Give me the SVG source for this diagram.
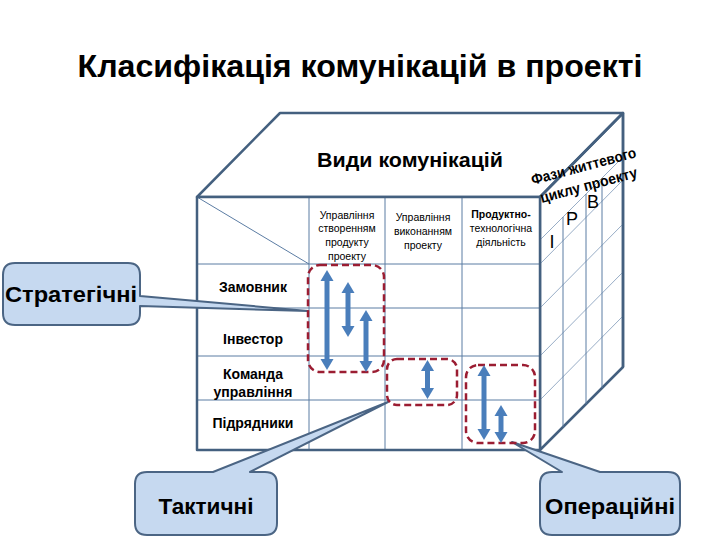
<svg xmlns="http://www.w3.org/2000/svg" width="720" height="540" viewBox="0 0 720 540">
<defs>
<style>
.edge{stroke:#44607F;stroke-width:2.5;fill:none;stroke-linejoin:round}
.grid{stroke:#5B7CA3;stroke-width:1;fill:none}
.side{stroke:#7E98B8;stroke-width:0.8;fill:none}
.t{font-family:"Liberation Sans",Arial,sans-serif;fill:#000}
.b{font-weight:bold}
.hdr{font-size:10.5px;text-anchor:middle}
.row{font-size:14px;font-weight:bold;text-anchor:middle}
.call{fill:#C6D9F0;stroke:#4B6584;stroke-width:2;stroke-linejoin:round}
.callt{font-size:22px;font-weight:bold;text-anchor:middle}
.dash{fill:none;stroke:#9B1D32;stroke-width:2.5;stroke-dasharray:7 4}
.arr{stroke:#4A7EBB;stroke-width:5;fill:none;marker-start:url(#ah);marker-end:url(#ah)}
</style>
<marker id="ah" markerUnits="userSpaceOnUse" markerWidth="14" markerHeight="14" viewBox="0 -7 12 14" refX="0" refY="0" orient="auto-start-reverse">
<path d="M0,-6.5 L11,0 L0,6.5 Z" fill="#4A7EBB"/>
</marker>
</defs>
<rect width="720" height="540" fill="#fff"/>
<text id="title" class="t b" x="360" y="77" font-size="32" text-anchor="middle" textLength="565" lengthAdjust="spacingAndGlyphs">Класифікація комунікацій в проекті</text>

<g id="cube">
<polygon points="197,197 280,113 623,113 540,197" fill="#fff" class="edge"/>
<polygon points="540,197 623,113 623,367 540,450" fill="#fff" class="edge"/>
<line class="side" x1="540" y1="240" x2="623" y2="157"/>
<line class="side" x1="540" y1="264" x2="623" y2="180"/>
<line class="side" x1="540" y1="308" x2="623" y2="224"/>
<line class="side" x1="540" y1="356" x2="623" y2="272"/>
<line class="side" x1="540" y1="400" x2="623" y2="316"/>
<line class="grid" x1="563" y1="217" x2="563" y2="427"/>
<line class="grid" x1="586" y1="194" x2="586" y2="404"/>
<line class="grid" x1="602" y1="178" x2="602" y2="388"/>
<rect x="197" y="197" width="343" height="253" fill="#fff"/>
<line class="grid" x1="197" y1="264" x2="540" y2="264"/>
<line class="grid" x1="197" y1="308" x2="540" y2="308"/>
<line class="grid" x1="197" y1="356" x2="540" y2="356"/>
<line class="grid" x1="197" y1="400" x2="540" y2="400"/>
<line class="grid" x1="309" y1="197" x2="309" y2="450"/>
<line class="grid" x1="385" y1="197" x2="385" y2="450"/>
<line class="grid" x1="462" y1="197" x2="462" y2="450"/>
<line class="grid" x1="197" y1="197" x2="309" y2="264"/>
<rect x="197" y="197" width="343" height="253" class="edge"/>
<line class="edge" x1="623" y1="113" x2="623" y2="367"/>

<text class="t b" x="410" y="167" font-size="20" text-anchor="middle" textLength="186" lengthAdjust="spacingAndGlyphs">Види комунікацій</text>
<text class="t b" font-size="15" text-anchor="middle" transform="translate(585,171) rotate(-15)" textLength="108" lengthAdjust="spacingAndGlyphs">Фази життевого</text>
<text class="t b" font-size="15" text-anchor="middle" transform="translate(590,190) rotate(-15)" textLength="100" lengthAdjust="spacingAndGlyphs">циклу проекту</text>
<text class="t" x="552" y="248" font-size="18" text-anchor="middle">І</text>
<text class="t" x="572" y="225" font-size="18" text-anchor="middle">Р</text>
<text class="t" x="593" y="208" font-size="18" text-anchor="middle">В</text>

<text class="t hdr" x="347" y="219">Управління</text>
<text class="t hdr" x="347" y="232">створенням</text>
<text class="t hdr" x="347" y="246">продукту</text>
<text class="t hdr" x="347" y="260">проекту</text>
<text class="t hdr" x="423" y="221">Управління</text>
<text class="t hdr" x="423" y="235">виконанням</text>
<text class="t hdr" x="423" y="249">проекту</text>
<text class="t hdr b" x="501" y="218">Продуктно-</text>
<text class="t hdr" x="501" y="232">технологічна</text>
<text class="t hdr" x="501" y="246">діяльність</text>

<text class="t row" x="253" y="292">Замовник</text>
<text class="t row" x="253" y="344">Інвестор</text>
<text class="t row" x="253" y="379">Команда</text>
<text class="t row" x="253" y="397">управління</text>
<text class="t row" x="253" y="428">Підрядники</text>
</g>

<g id="strategic">
<path class="call" d="M15,263 H128 Q140,263 140,275 V296 L308,311 L140,306 V313 Q140,325 128,325 H15 Q3,325 3,313 V275 Q3,263 15,263 Z"/>
<text class="t callt" x="71" y="302" textLength="132" lengthAdjust="spacingAndGlyphs">Стратегічні</text>
</g>
<g id="tactical">
<path class="call" d="M147,472 H213 L388,402 L250,472 H265 Q277,472 277,484 V523 Q277,535 265,535 H147 Q135,535 135,523 V484 Q135,472 147,472 Z"/>
<text class="t callt" x="206" y="514" textLength="95" lengthAdjust="spacingAndGlyphs">Тактичні</text>
</g>
<g id="operational">
<path class="call" d="M552,472 H562 L512,442 L600,472 H668 Q680,472 680,484 V523 Q680,535 668,535 H552 Q540,535 540,523 V484 Q540,472 552,472 Z"/>
<text class="t callt" x="610" y="514" textLength="130" lengthAdjust="spacingAndGlyphs">Операційні</text>
</g>

<g id="group-strategic">
<rect class="dash" x="308" y="265" width="76" height="107" rx="12"/>
</g>
<g id="group-tactical">
<rect class="dash" x="387" y="359" width="70" height="46" rx="10"/>
</g>
<g id="group-operational">
<rect class="dash" x="466" y="365" width="69" height="78" rx="12"/>
</g>

<g id="connectors">
<path class="arr" d="M327,281 V359"/>
<path class="arr" d="M348,293 V326"/>
<path class="arr" d="M366,321 V361"/>
<path class="arr" d="M427.5,371 V388"/>
<path class="arr" d="M484,376 V429"/>
<path class="arr" d="M501,416 V432"/>
</g>
</svg>
